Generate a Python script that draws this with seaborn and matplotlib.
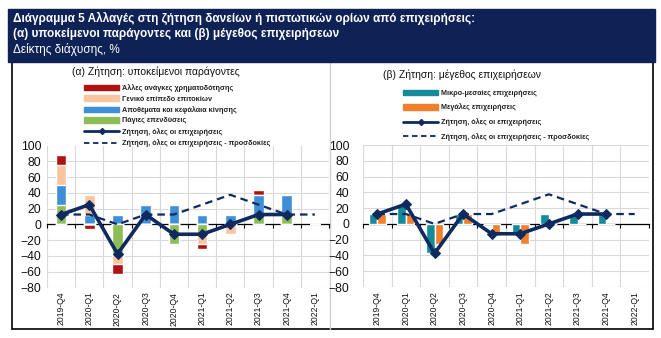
import numpy as np
import pandas as pd
import matplotlib
matplotlib.use("Agg")
import matplotlib.pyplot as plt
from matplotlib.lines import Line2D
from matplotlib.patches import Patch, Rectangle
from matplotlib.ticker import FixedLocator, MultipleLocator
import seaborn as sns

# ---------------------------------------------------------------- data
quarters = ["2019-Q4", "2020-Q1", "2020-Q2", "2020-Q3", "2020-Q4",
            "2021-Q1", "2021-Q2", "2021-Q3", "2021-Q4", "2022-Q1"]

# (α) contributing factors, stacked from the zero line outward in this order
fixed_investment = [25, 0, -37.5, 0, -25, -12.5, 0, 12.5, 12.5, np.nan]
inventories = [25, 12.5, 12.5, 25, 25, 12.5, 12.5, 25, 25, np.nan]
interest_level = [25, 25, -12.5, 0, 0, -12.5, -12.5, 0, 0, np.nan]
other_needs = [12.5, -6.25, -12.5, 0, 0, -6.25, 0, 6.25, 0, np.nan]

# overall demand and expectations (both panels)
demand_all = [12.5, 25, -37.5, 12.5, -12.5, -12.5, 0, 12.5, 12.5, np.nan]
demand_expected = [12.5, 12.5, 0, 12.5, 12.5, 25, 37.5, 25, 12.5, 12.5]

# (β) by firm size
sme = [12.5, 25, -37.5, 12.5, 0, -12.5, 12.5, 12.5, 12.5, np.nan]
large = [12.5, 12.5, -25, 12.5, -12.5, -25, 0, 0, 0, np.nan]

factor_labels = ["Πάγιες επενδύσεις", "Αποθέματα και κεφάλαια κίνησης",
                 "Γενικό επίπεδο επιτοκίων", "Άλλες ανάγκες χρηματοδότησης"]
size_labels = ["Μικρο-μεσαίες επιχειρήσεις", "Μεγάλες επιχειρήσεις"]
line_labels = ["Ζήτηση, όλες οι επιχειρήσεις",
               "Ζήτηση, όλες οι επιχειρήσεις - προσδοκίες"]

# ---------------------------------------------------------------- style
sns.set_style("white")
plt.rcParams["font.family"] = ["Liberation Sans", "DejaVu Sans"]

C_GREEN = "#8cbd57"
C_BLUE = "#3e8fd8"
C_PEACH = "#f9c4a0"
C_RED = "#b01212"
C_TEAL = "#158a9a"
C_ORANGE = "#f27f2c"
C_LINE = "#0f2a5f"
C_HEAD = "#0f2256"
C_GRID = "#d9d9d9"
C_TEXT = "#111111"

W, H = 661, 338
fig = plt.figure(figsize=(W / 100, H / 100), dpi=100)


def fx(px):
    return px / W


def fy(py):
    return 1 - py / H


# header band with the title lines
fig.patches.append(Rectangle((fx(8), fy(62)), fx(647), 53 / H,
                             transform=fig.transFigure, color=C_HEAD, zorder=0))
fig.text(fx(13), fy(18), "Διάγραμμα 5 Αλλαγές στη ζήτηση δανείων ή πιστωτικών ορίων από επιχειρήσεις:",
         color="white", fontsize=8.5, fontweight="bold", va="center", ha="left")
fig.text(fx(13), fy(34), "(α) υποκείμενοι παράγοντες και (β) μέγεθος επιχειρήσεων",
         color="white", fontsize=8.5, fontweight="bold", va="center", ha="left")
fig.text(fx(13), fy(50), "Δείκτης διάχυσης, %",
         color="white", fontsize=8.5, va="center", ha="left")

# frame around the two panels
frame = dict(transform=fig.transFigure, zorder=0)
fig.add_artist(Line2D([fx(12), fx(12)], [fy(62), fy(329)], color="black", lw=1.2, **frame))
fig.add_artist(Line2D([fx(653), fx(653)], [fy(62), fy(329)], color="black", lw=1.2, **frame))
fig.add_artist(Line2D([fx(12), fx(653)], [fy(329), fy(329)], color="black", lw=1.2, **frame))
fig.add_artist(Line2D([fx(330), fx(330)], [fy(62), fy(329)], color="#d0d0d0", lw=1.0, **frame))

ax_a = fig.add_axes([fx(47), fy(287.5), fx(282), 142 / H])
ax_b = fig.add_axes([fx(363), fy(287), fx(286), 142 / H])

pos = np.arange(len(quarters))


def style_axis(ax, ypad):
    ax.set_xlim(-0.5, len(quarters) - 0.5)
    ax.set_ylim(-80, 100)
    ax.yaxis.set_major_locator(MultipleLocator(20))
    ax.xaxis.set_major_locator(FixedLocator(pos))
    ax.xaxis.set_minor_locator(FixedLocator(np.arange(-0.5, len(quarters), 1)))
    ax.set_xticks(pos, quarters)
    ax.grid(axis="y", which="major", color=C_GRID, lw=0.8)
    ax.grid(axis="x", which="minor", color=C_GRID, lw=0.8)
    ax.grid(axis="x", which="major", visible=False)
    ax.set_axisbelow(True)
    for s in ["left", "right", "bottom"]:
        ax.spines[s].set_visible(False)
    ax.spines["top"].set_position(("data", 0))
    ax.spines["top"].set_color("black")
    ax.spines["top"].set_linewidth(0.9)
    ax.spines["top"].set_zorder(2.5)
    ax.tick_params(axis="x", which="major", length=0, labelsize=6.2, rotation=90,
                   pad=3, colors=C_TEXT, top=False)
    ax.tick_params(axis="x", which="minor", top=True, bottom=False, direction="in",
                   length=3, width=0.8, color="black")
    ax.tick_params(axis="y", length=0, labelsize=8.7, pad=ypad, colors=C_TEXT)
    ax.set_xlabel("")
    ax.set_ylabel("")


def draw_lines(ax):
    sns.lineplot(x=pos, y=demand_expected, ax=ax, color=C_LINE, lw=1.6,
                 linestyle=(0, (3.4, 2.2)), legend=False, zorder=4)
    sns.lineplot(x=pos, y=demand_all, ax=ax, color=C_LINE, lw=2.6, marker="D",
                 markersize=5.5, markeredgecolor=C_LINE, legend=False, zorder=5)


# ---------------------------------------------------------------- (α) stacked bars
factors = [fixed_investment, inventories, interest_level, other_needs]
colors_a = [C_GREEN, C_BLUE, C_PEACH, C_RED]
vals = np.nan_to_num(np.array(factors, dtype=float))
pos_cum = np.cumsum(np.clip(vals, 0, None), axis=0)
neg_cum = np.cumsum(np.clip(vals, None, 0), axis=0)
# outer segments first, inner ones painted over them
for i in reversed(range(len(factors))):
    for cum in (pos_cum, neg_cum):
        sns.barplot(x=quarters, y=cum[i], order=quarters, color=colors_a[i],
                    width=0.38, saturation=1, ax=ax_a, zorder=3)
draw_lines(ax_a)
style_axis(ax_a, 4)

# ---------------------------------------------------------------- (β) clustered bars
df_b = pd.DataFrame({
    "quarter": quarters * 2,
    "size": [size_labels[0]] * len(quarters) + [size_labels[1]] * len(quarters),
    "value": sme + large,
})
sns.barplot(data=df_b, x="quarter", y="value", hue="size", order=quarters,
            hue_order=size_labels, palette=[C_TEAL, C_ORANGE], width=0.6,
            saturation=1, legend=False, ax=ax_b, zorder=3)
draw_lines(ax_b)
style_axis(ax_b, 10)

# ---------------------------------------------------------------- legends
line_handles = [
    Line2D([], [], color=C_LINE, lw=2.0, marker="D", markersize=3),
    Line2D([], [], color=C_LINE, lw=1.3, linestyle=(0, (3, 2))),
]
leg_props = dict(loc="upper left", frameon=False, handlelength=4.9, handleheight=0.75,
                 handletextpad=0.3, borderpad=0, borderaxespad=0,
                 prop=dict(size=5.2, weight="bold"))
h_a = [Patch(color=C_RED), Patch(color=C_PEACH), Patch(color=C_BLUE), Patch(color=C_GREEN)] + line_handles
l_a = [factor_labels[3], factor_labels[2], factor_labels[1], factor_labels[0]] + line_labels
leg_a = fig.legend(h_a, l_a, bbox_to_anchor=(fx(84), fy(84)), labelspacing=0.48, **leg_props)
h_b = [Patch(color=C_TEAL), Patch(color=C_ORANGE)] + line_handles
leg_b = fig.legend(h_b, size_labels + line_labels, bbox_to_anchor=(fx(403), fy(89.5)),
                   labelspacing=0.95, **leg_props)
for leg in (leg_a, leg_b):
    for t in leg.get_texts():
        t.set_color("#222222")

fig.text(fx(156), fy(72), "(α) Ζήτηση: υποκείμενοι παράγοντες", fontsize=7.5,
         ha="center", va="center", color=C_TEXT)
fig.text(fx(462), fy(75), "(β) Ζήτηση: μέγεθος επιχειρήσεων", fontsize=7.5,
         ha="center", va="center", color=C_TEXT)

fig.savefig("out.png", dpi=100)
